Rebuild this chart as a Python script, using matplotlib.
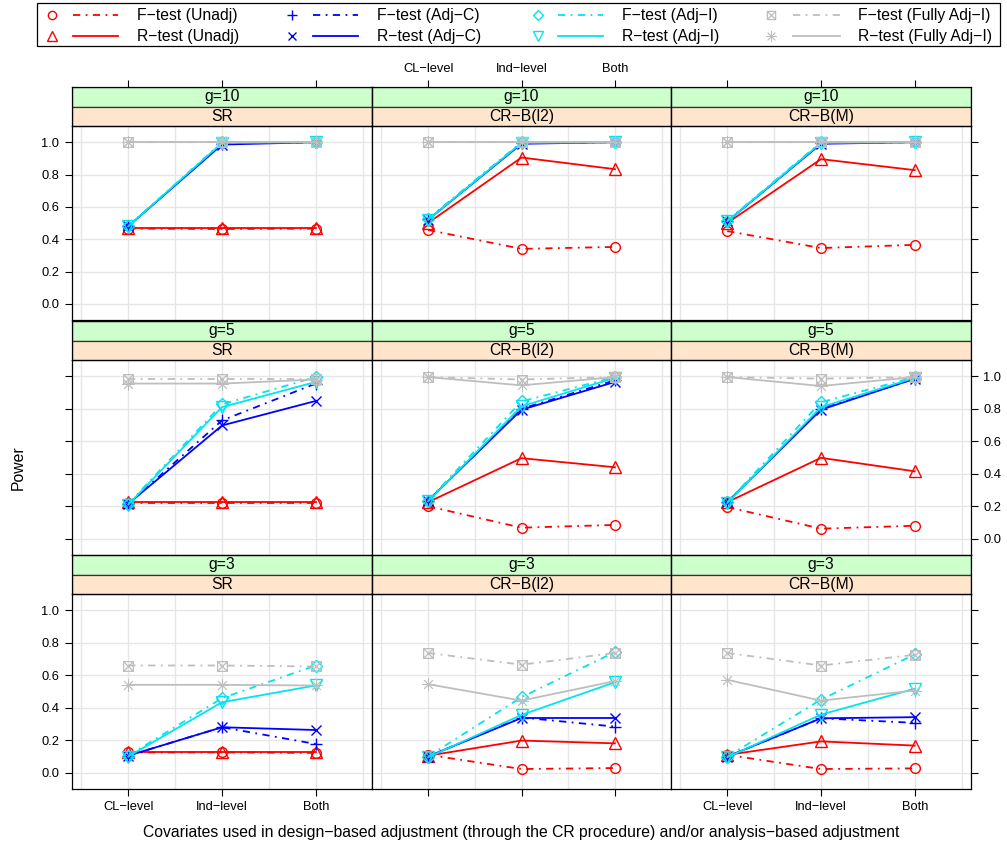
import matplotlib
matplotlib.use("Agg")
from matplotlib import pyplot as plt
from matplotlib.path import Path
from matplotlib.patches import Rectangle

plt.rcParams["font.family"] = ["Liberation Sans", "DejaVu Sans"]

# facets
g_levels = ["g=10", "g=5", "g=3"]
designs = ["SR", "CR\u2212B(l2)", "CR\u2212B(M)"]
levels = ["CL\u2212level", "Ind\u2212level", "Both"]

# power, indexed [g][design][covariate level]
f_unadj = [[[0.465, 0.463, 0.465], [0.457, 0.34, 0.352], [0.45, 0.345, 0.365]],
           [[0.22, 0.22, 0.22], [0.20, 0.068, 0.085], [0.195, 0.062, 0.08]],
           [[0.125, 0.125, 0.122], [0.11, 0.023, 0.029], [0.11, 0.023, 0.027]]]
r_unadj = [[[0.47, 0.47, 0.47], [0.50, 0.905, 0.833], [0.50, 0.895, 0.827]],
           [[0.225, 0.225, 0.225], [0.225, 0.496, 0.44], [0.225, 0.498, 0.415]],
           [[0.125, 0.125, 0.125], [0.105, 0.198, 0.181], [0.11, 0.193, 0.167]]]
f_adjc = [[[0.48, 0.99, 1.0], [0.525, 0.995, 1.0], [0.51, 0.995, 1.0]],
          [[0.215, 0.728, 0.955], [0.235, 0.80, 0.975], [0.225, 0.80, 0.985]],
          [[0.105, 0.28, 0.177], [0.10, 0.34, 0.284], [0.10, 0.335, 0.307]]]
r_adjc = [[[0.48, 0.985, 1.0], [0.52, 0.99, 1.0], [0.51, 0.99, 1.0]],
          [[0.215, 0.697, 0.848], [0.235, 0.794, 0.965], [0.225, 0.794, 0.985]],
          [[0.105, 0.28, 0.263], [0.10, 0.337, 0.337], [0.10, 0.335, 0.342]]]
f_adji = [[[0.48, 1.0, 1.0], [0.525, 1.0, 1.0], [0.515, 1.0, 1.0]],
          [[0.215, 0.827, 0.995], [0.235, 0.845, 0.995], [0.225, 0.84, 0.995]],
          [[0.105, 0.459, 0.66], [0.10, 0.465, 0.743], [0.10, 0.45, 0.728]]]
r_adji = [[[0.48, 0.995, 1.0], [0.52, 0.995, 1.0], [0.51, 0.995, 1.0]],
          [[0.21, 0.81, 0.965], [0.23, 0.815, 0.99], [0.22, 0.81, 0.99]],
          [[0.10, 0.434, 0.537], [0.095, 0.356, 0.557], [0.095, 0.358, 0.517]]]
f_full = [[[1.0, 1.0, 1.0], [1.0, 1.0, 1.0], [1.0, 1.0, 1.0]],
          [[0.985, 0.985, 0.985], [0.995, 0.98, 0.995], [0.995, 0.985, 0.995]],
          [[0.66, 0.66, 0.654], [0.737, 0.665, 0.737], [0.737, 0.66, 0.726]]]
r_full = [[[1.0, 1.0, 1.0], [1.0, 1.0, 1.0], [1.0, 1.0, 1.0]],
          [[0.955, 0.955, 0.98], [0.995, 0.944, 0.995], [0.995, 0.94, 0.995]],
          [[0.541, 0.541, 0.537], [0.545, 0.444, 0.564], [0.572, 0.444, 0.506]]]

labels = ["F\u2212test (Unadj)", "R\u2212test (Unadj)",
          "F\u2212test (Adj\u2212C)", "R\u2212test (Adj\u2212C)",
          "F\u2212test (Adj\u2212I)", "R\u2212test (Adj\u2212I)",
          "F\u2212test (Fully Adj\u2212I)", "R\u2212test (Fully Adj\u2212I)"]
series = [f_unadj, r_unadj, f_adjc, r_adjc, f_adji, r_adji, f_full, r_full]

boxx = Path([(-1, -1), (1, -1), (1, 1), (-1, 1), (-1, -1), (-1, -1), (1, 1), (-1, 1), (1, -1)],
            [Path.MOVETO, Path.LINETO, Path.LINETO, Path.LINETO, Path.CLOSEPOLY,
             Path.MOVETO, Path.LINETO, Path.MOVETO, Path.LINETO])
dotdash = (0, (4, 3, 1, 3))
styles = [
    dict(color="#ff0000", marker="o", ms=7, ls=dotdash, mew=1.0),
    dict(color="#ff0000", marker="^", ms=8.5, ls="-", mew=1.0),
    dict(color="#0000ff", marker="+", ms=9, ls=dotdash, mew=1.0),
    dict(color="#0000ff", marker="x", ms=7, ls="-", mew=1.0),
    dict(color="#00e5ee", marker="D", ms=6.5, ls=dotdash, mew=1.0),
    dict(color="#00e5ee", marker="v", ms=8.5, ls="-", mew=1.0),
    dict(color="#bebebe", marker=boxx, ms=7, ls=dotdash, mew=0.9),
    dict(color="#bebebe", marker=(8, 2, 0), ms=9, ls="-", mew=0.6),
]

W, H = 1007, 850
fig = plt.figure(figsize=(W / 100, H / 100), dpi=100)


def box(x0, y0, x1, y1):
    return [x0 / W, 1 - y1 / H, (x1 - x0) / W, (y1 - y0) / H]


col_x = [72, 372, 671, 971]
strip_top = [87, 321, 555]
panel_top = [126, 360, 594]
panel_bot = [320, 555, 789]
xs = [1, 2, 3]
yticks = [0.0, 0.2, 0.4, 0.6, 0.8, 1.0]

for r in range(3):
    for c in range(3):
        ax = fig.add_axes(box(col_x[c], panel_top[r], col_x[c + 1], panel_bot[r]))
        ax.set_xlim(0.4, 3.6)
        ax.set_ylim(-0.1, 1.1)
        for gx in [0.5, 1, 1.5, 2, 2.5, 3, 3.5]:
            ax.axvline(gx, color="#e6e6e6", lw=1, zorder=0)
        for gy in yticks:
            ax.axhline(gy, color="#e6e6e6", lw=1, zorder=0)
        for s, st in zip(series, styles):
            ax.plot(xs, s[r][c], color=st["color"], ls=st["ls"], lw=1.3,
                    marker=st["marker"], ms=st["ms"], mfc="none",
                    mew=st["mew"], mec=st["color"])
        for sp in ax.spines.values():
            sp.set_linewidth(0.9)
        ax.set_xticks(xs)
        ax.set_xticklabels(levels, fontsize=9.3)
        ax.set_yticks(yticks)
        ax.set_yticklabels(["%.1f" % v for v in yticks], fontsize=9.3)
        ax.tick_params(direction="out", length=5, width=0.8, pad=4,
                       top=False, bottom=(r == 2), left=(c == 0), right=(c == 2),
                       labelbottom=(r == 2 and c != 1),
                       labelleft=(c == 0 and r != 1),
                       labelright=(c == 2 and r == 1),
                       labeltop=False)

        # strips: g on top (green), design below (orange)
        sx = fig.add_axes(box(col_x[c], strip_top[r], col_x[c + 1], panel_top[r]))
        sx.set_xlim(0.4, 3.6)
        sx.set_ylim(0, 2)
        sx.add_patch(Rectangle((0.4, 1), 3.2, 1, facecolor="#ccffcc",
                               edgecolor="#333333", lw=0.9))
        sx.add_patch(Rectangle((0.4, 0), 3.2, 1, facecolor="#ffe5cc",
                               edgecolor="#333333", lw=0.9))
        sx.text(2, 1.5, g_levels[r], ha="center", va="center", fontsize=11.3)
        sx.text(2, 0.5, designs[c], ha="center", va="center", fontsize=11.3)
        for sp in sx.spines.values():
            sp.set_linewidth(0.9)
        sx.set_yticks([])
        sx.set_xticks(xs)
        sx.set_xticklabels(levels, fontsize=9.3)
        sx.tick_params(direction="out", length=5, width=0.8, pad=4,
                       bottom=False, labelbottom=False,
                       top=(r == 0), labeltop=(r == 0 and c == 1))

fig.text(521 / W, 1 - 833 / H,
         "Covariates used in design\u2212based adjustment (through the CR procedure) "
         "and/or analysis\u2212based adjustment",
         ha="center", va="center", fontsize=11.3)
fig.text(18 / W, 1 - 468 / H, "Power", ha="center", va="center",
         rotation=90, fontsize=11.3)

# legend, drawn by hand in pixel space
lg = fig.add_axes([0, 0, 1, 1], facecolor="none")
lg.set_xlim(0, W)
lg.set_ylim(H, 0)
lg.axis("off")
lg.add_patch(Rectangle((37, 3), 963, 43, facecolor="none", edgecolor="black", lw=0.9))
mark_x = [52, 292, 538, 771]
line_x = [(73, 118), (313, 358), (558, 603), (793, 840)]
text_x = [137, 377, 622, 858]
row_y = [15, 36]
for i, (lab, st) in enumerate(zip(labels, styles)):
    col, row = i // 2, i % 2
    y = row_y[row]
    lg.plot([mark_x[col]], [y], color=st["color"], marker=st["marker"],
            ms=st["ms"] * 0.85, mfc="none", mew=st["mew"], ls="none")
    lg.plot(line_x[col], [y, y], color=st["color"], ls=st["ls"], lw=1.3)
    lg.text(text_x[col], y, lab, ha="left", va="center", fontsize=11.3)

fig.savefig("out.png", dpi=100)
